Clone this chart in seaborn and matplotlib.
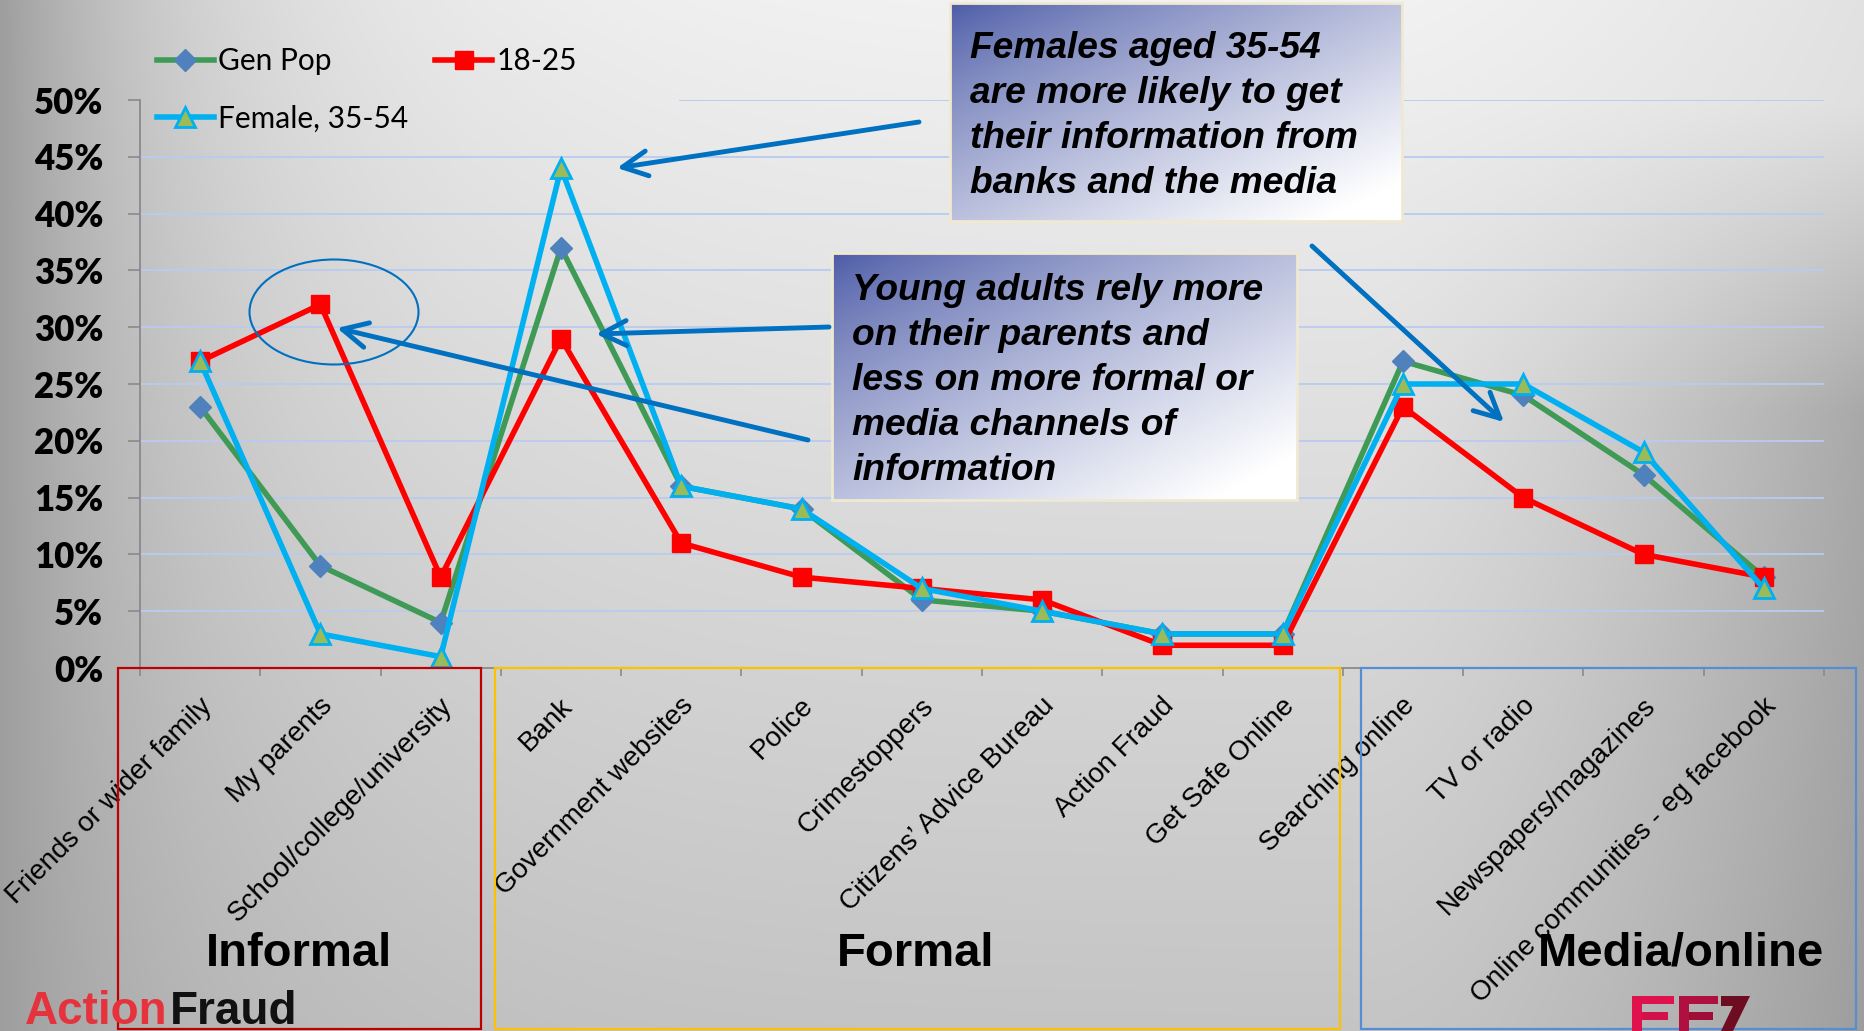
import numpy as np
import pandas as pd
import matplotlib
matplotlib.use("Agg")
import matplotlib.pyplot as plt
import seaborn as sns
from matplotlib.patches import Rectangle, Ellipse, FancyArrowPatch, Polygon
from matplotlib.transforms import ScaledTranslation
from matplotlib.font_manager import FontProperties

# ---------------------------------------------------------------- data
categories = [
    "Friends or wider family", "My parents", "School/college/university",
    "Bank", "Government websites", "Police", "Crimestoppers",
    "Citizens\u2019 Advice Bureau", "Action Fraud", "Get Safe Online",
    "Searching online", "TV or radio", "Newspapers/magazines",
    "Online communities - eg facebook",
]
gen_pop = [23, 9, 4, 37, 16, 14, 6, 5, 3, 3, 27, 24, 17, 8]
age_18_25 = [27, 32, 8, 29, 11, 8, 7, 6, 2, 2, 23, 15, 10, 8]
female_35_54 = [27, 3, 1, 44, 16, 14, 7, 5, 3, 3, 25, 25, 19, 7]
series_names = ["Gen Pop", "18-25", "Female, 35-54"]
y_ticks = list(range(0, 55, 5))
group_names = ["Informal", "Formal", "Media/online"]
note_banks = "Females aged 35-54\nare more likely to get\ntheir information from\nbanks and the media"
note_young = ("Young adults rely more\non their parents and\nless on more formal or\n"
              "media channels of\ninformation")

n = len(categories)
df = pd.DataFrame({
    "Source": categories * 3,
    "Share": gen_pop + age_18_25 + female_35_54,
    "Group": np.repeat(series_names, n),
})

# ---------------------------------------------------------------- canvas
W, H = 1864, 1031
fig = plt.figure(figsize=(W / 100, H / 100), dpi=100)


def fx(x):
    return x / W


def fy(y):
    return 1 - y / H


# slide background: soft grey with a darker left edge and a shaded right side
yy, xx = np.mgrid[0:H:3, 0:W:3].astype(float)
Y = yy / H
right = np.clip((xx - 1350) / 514, 0, 1)
bright = (0.95
          - 0.33 * np.exp(-xx / 210) * (1 - 0.55 * Y)
          - 0.18 * Y * (1 - 0.6 * right)
          - 0.26 * right ** 1.4 * np.clip(Y / 0.4, 0.25, 1))
bg = np.dstack([bright, bright, bright])
bg_ax = fig.add_axes([0, 0, 1, 1])
bg_ax.imshow(np.clip(bg, 0, 1), extent=(0, 1, 0, 1), aspect="auto",
             interpolation="bilinear")
bg_ax.axis("off")

# ---------------------------------------------------------------- chart
ax = fig.add_axes([fx(140), fy(668), (1824 - 140) / W, (668 - 100) / H])
ax.patch.set_alpha(0)

grid_col = "#b9cbee"
for v in y_ticks[1:]:
    start = (680 - 140) / (1824 - 140) if v == y_ticks[-1] else 0
    ax.axhline(v, xmin=start, xmax=1, color=grid_col, lw=1.3, zorder=0.5)

styles = {
    "Gen Pop": dict(color="#3f9a55", marker="D", markersize=11.5,
                    markerfacecolor="#4f81bd", markeredgecolor="#4f81bd",
                    markeredgewidth=1),
    "18-25": dict(color="#ff0000", marker="s", markersize=13.5,
                  markerfacecolor="#ff0000", markeredgecolor="#ff0000",
                  markeredgewidth=1),
    "Female, 35-54": dict(color="#00b0f0", marker="^", markersize=14.5,
                          markerfacecolor="#9bbb59", markeredgecolor="#00b0f0",
                          markeredgewidth=2),
}
for i, name in enumerate(series_names):
    sub = df[df["Group"] == name]
    sns.lineplot(data=sub, x="Source", y="Share", ax=ax, sort=False,
                 errorbar=None, lw=4, label=name, zorder=2 + i,
                 **styles[name])

ax.set_xlim(-0.5, n - 0.5)
ax.set_ylim(0, 50)
ax.set_xlabel("")
ax.set_ylabel("")

axis_col = "#8a8a8a"
for side in ["top", "right"]:
    ax.spines[side].set_visible(False)
for side in ["left", "bottom"]:
    ax.spines[side].set_color(axis_col)
    ax.spines[side].set_linewidth(1.3)

ax.set_yticks(y_ticks)
ax.set_yticklabels([f"{v}%" for v in y_ticks], fontfamily="Lato",
                   fontweight="heavy", fontsize=25)
ax.tick_params(axis="y", length=8.6, width=1.2, color=axis_col, pad=18,
               direction="out")

ax.set_xticks(range(n))
ax.set_xticklabels(categories, rotation=45, ha="right", va="center",
                   rotation_mode="anchor", fontsize=20,
                   fontfamily="Liberation Sans")
ax.tick_params(axis="x", which="major", length=0, pad=24.5)
ax.set_xticks(np.arange(-0.5, n, 1), minor=True)
ax.tick_params(axis="x", which="minor", length=6, width=1.2, color=axis_col,
               direction="out")
shift = ScaledTranslation(8 / 100, 0, fig.dpi_scale_trans)
for lab in ax.get_xticklabels():
    lab.set_transform(lab.get_transform() + shift)

handles, labels = ax.get_legend_handles_labels()
lookup = dict(zip(labels, handles))
order = ["Gen Pop", "Female, 35-54", "18-25"]
ax.legend([lookup[k] for k in order], order, ncol=2, loc="upper left",
          bbox_to_anchor=(fx(157), fy(47)), bbox_transform=fig.transFigure,
          frameon=False, prop=FontProperties(family="Lato", size=21.5),
          handlelength=1.9, handletextpad=0.15, columnspacing=0.9,
          labelspacing=1.0, borderpad=0, borderaxespad=0)

# ---------------------------------------------------------------- call-out boxes
c_dark = np.array([0.29, 0.35, 0.65])
c_light = np.array([1.0, 1.0, 1.0])


def gradient_box(x0, y0, x1, y1):
    bax = fig.add_axes([fx(x0), fy(y1), (x1 - x0) / W, (y1 - y0) / H])
    u = np.linspace(0, 1, 240)[None, :]
    v = np.linspace(0, 1, 140)[:, None]
    t = np.clip(0.55 * u + 0.55 * v, 0, 1) ** 0.8
    rgb = c_dark * (1 - t)[..., None] + c_light * t[..., None]
    bax.imshow(rgb, extent=(0, 1, 0, 1), aspect="auto", interpolation="bilinear")
    bax.set_xticks([])
    bax.set_yticks([])
    for s in bax.spines.values():
        s.set_color("#efe9d2")
        s.set_linewidth(2)
    return bax


gradient_box(950, 3, 1402, 221)
gradient_box(832, 253, 1297, 500)
note_font = dict(fontsize=26.7, fontweight="bold", fontstyle="italic",
                 fontfamily="Liberation Sans", va="top", ha="left",
                 linespacing=1.37, color="black")
fig.text(fx(970), fy(31), note_banks, **note_font)
fig.text(fx(852), fy(273), note_young, **note_font)

# arrows and highlight ellipse
arrow_col = "#0070c0"
arrows = [((919, 122), (617, 168)), ((829, 327), (596, 334)),
          ((808, 440), (337, 328)), ((1312, 246), (1504, 422))]
for (xa, ya), (xb, yb) in arrows:
    fig.add_artist(FancyArrowPatch(
        (fx(xa), fy(ya)), (fx(xb), fy(yb)), transform=fig.transFigure,
        arrowstyle="->,head_length=0.9,head_width=0.45", mutation_scale=20,
        color=arrow_col, lw=3.5, shrinkA=0, shrinkB=0))
fig.add_artist(Ellipse((fx(334), fy(312)), 169 / W, 105 / H,
                       transform=fig.transFigure, fill=False,
                       ec=arrow_col, lw=1.5))

# ---------------------------------------------------------------- group frames
frames = [(118, 481, "#c00000"), (495, 1340, "#ffc000"), (1361, 1856, "#558ed5")]
centres = [299, 916, 1681]
for (x0, x1, col), cx, name in zip(frames, centres, group_names):
    fig.add_artist(Rectangle((fx(x0), fy(1029)), (x1 - x0) / W, (1029 - 668) / H,
                             transform=fig.transFigure, fill=False, ec=col,
                             lw=1.6))
    fig.text(fx(cx), fy(966), name, ha="center", va="baseline", fontsize=34,
             fontweight="bold", fontfamily="Liberation Sans")

# ---------------------------------------------------------------- logos
fig.text(fx(25), fy(1024), "Action", ha="left", va="baseline", fontsize=33,
         fontweight="bold", fontfamily="Liberation Sans", color="#e5323c")
fig.text(fx(170), fy(1024), "Fraud", ha="left", va="baseline", fontsize=33,
         fontweight="bold", fontfamily="Liberation Sans", color="#111111")

logo_parts = [
    ([(1632, 996), (1674, 996), (1674, 1004), (1642, 1004), (1642, 1031),
      (1632, 1031)], "#e0124e"),
    ([(1642, 1012), (1668, 1012), (1668, 1020), (1642, 1020)], "#d4104a"),
    ([(1679, 996), (1718, 996), (1718, 1004), (1689, 1004), (1689, 1031),
      (1679, 1031)], "#b01040"),
    ([(1689, 1012), (1713, 1012), (1713, 1020), (1689, 1020)], "#a00e38"),
    ([(1721, 996), (1750, 996), (1733, 1031), (1721, 1031), (1733, 1006),
      (1721, 1006)], "#6e0c22"),
]
for pts, col in logo_parts:
    fig.add_artist(Polygon([(fx(a), fy(b)) for a, b in pts], closed=True,
                           transform=fig.transFigure, fc=col, ec="none"))

fig.savefig("out.png", dpi=100)
